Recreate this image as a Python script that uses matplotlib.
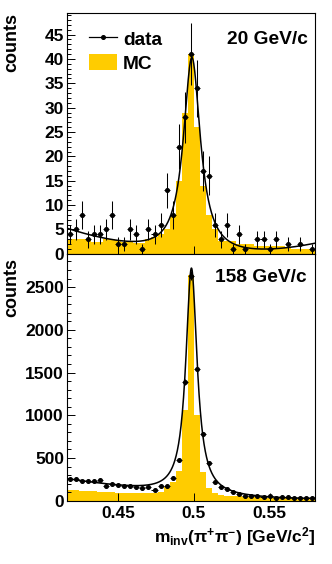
import numpy as np
import matplotlib
matplotlib.use("Agg")
import matplotlib.pyplot as plt
from matplotlib.lines import Line2D
from matplotlib.patches import Patch
from matplotlib.ticker import MultipleLocator, FixedLocator

plt.rcParams['font.family'] = ['Liberation Sans', 'DejaVu Sans']
plt.rcParams['font.weight'] = 'bold'
plt.rcParams['mathtext.fontset'] = 'custom'
plt.rcParams['mathtext.rm'] = 'Liberation Sans:bold'
plt.rcParams['mathtext.bf'] = 'Liberation Sans:bold'
plt.rcParams['mathtext.it'] = 'Liberation Sans:bold'
plt.rcParams['mathtext.default'] = 'bf'

# ---------------- data ----------------
bin_edges = np.round(np.arange(0.416, 0.5801, 0.004), 4)   # 41 bins
bin_centers = (bin_edges[:-1] + bin_edges[1:]) / 2

# 20 GeV/c
data20 = [4, 5, 8, 3, 4, 4, 5, 8, 2, 2, 5, 4, 1, 5, 4, 6, 13, 8, 22, 28, 41,
          34, 17, 16, 6, 3, 6, 1, 4, 1, 0, 3, 3, 1, 3, 0, 2, 0, 2, 0, 1]
mc20 = [3.0, 3.0, 3.0, 3.0, 2.5, 2.5, 3.0, 3.0, 2.8, 2.5, 2.5, 2.3, 2.3, 3.0,
        3.5, 4.0, 5.0, 8.0, 15.0, 29.0, 41.0, 26.0, 14.0, 8.0, 5.0, 2.7, 2.7,
        2.7, 2.0, 2.0, 2.0, 1.5, 1.5, 1.5, 1.5, 1.5, 1.2, 1.0, 1.0, 1.0, 1.0]
# fit: Breit-Wigner (amplitude, mass, half width) + quadratic background
fit20_bw = [40.5, 0.4987, 0.0068]
fit20_bg = [-0.21, -16.8, 539.0]

# 158 GeV/c
data158 = [250, 254, 231, 227, 227, 239, 176, 196, 180, 168, 172, 164, 149, 160,
           125, 176, 176, 270, 473, 1393, 2635, 1539, 775, 438, 223, 157, 133,
           105, 82, 59, 55, 55, 47, 55, 35, 47, 40, 35, 28, 28, 31]
mc158 = [125, 122, 118, 115, 110, 106, 102, 98, 95, 92, 90, 88, 86, 85, 88,
         100, 164, 222, 350, 1062, 2640, 1003, 340, 150, 87, 70, 60, 55, 50,
         45, 42, 40, 38, 35, 33, 30, 28, 27, 25, 24, 22]
fit158_bw = [2650.0, 0.4984, 0.0045]
fit158_bg = [71.3, -1376.0, 9206.0]

labels = ["20 GeV/c", "158 GeV/c"]
ylims = [(0, 49.5), (0, 2890)]
ymajor = [5, 500]
yminor = [1, 100]
xticks = [0.45, 0.50, 0.55]
xticklabels = ["0.45", "0.5", "0.55"]

MC_COLOR = '#FFCC00'
FS = 12.5      # tick labels
FS_T = 13.8    # annotations / legend

fig = plt.figure(figsize=(3.32, 5.64), dpi=100)
ax1 = fig.add_axes([66.7/332, 1-253.8/564, 248.3/332, 241.1/564])
ax2 = fig.add_axes([66.7/332, 1-500.7/564, 248.3/332, 246.9/564])

xfine = np.linspace(bin_edges[0], bin_edges[-1], 800)


def fitcurve(x, bw, bg):
    A, m, g = bw
    u = x - 0.5
    return A * g**2 / ((x - m)**2 + g**2) + bg[0] + bg[1]*u + bg[2]*u**2


for ax, d, mc, bw, bg, yl, ymj, ymn in [
        (ax1, data20, mc20, fit20_bw, fit20_bg, ylims[0], ymajor[0], yminor[0]),
        (ax2, data158, mc158, fit158_bw, fit158_bg, ylims[1], ymajor[1], yminor[1])]:
    d = np.array(d, float)
    ax.stairs(mc, bin_edges, fill=True, color=MC_COLOR, lw=0, zorder=1)
    ax.plot(xfine, fitcurve(xfine, bw, bg), color='black', lw=1.1, zorder=2)
    mask = d > 0
    ax.errorbar(bin_centers[mask], d[mask], yerr=np.sqrt(d[mask]), xerr=0.002,
                fmt='o', ms=2.6, color='black', ecolor='black', elinewidth=0.75,
                capsize=0, zorder=3)
    ax.set_xlim(bin_edges[0], bin_edges[-1])
    ax.set_ylim(*yl)
    ax.yaxis.set_major_locator(MultipleLocator(ymj))
    ax.yaxis.set_minor_locator(MultipleLocator(ymn))
    ax.xaxis.set_major_locator(FixedLocator(xticks))
    ax.tick_params(axis='both', which='both', direction='in', top=False, right=False,
                   labelsize=FS, width=0.7)
    ax.tick_params(axis='y', which='major', length=6, pad=2)
    ax.tick_params(axis='y', which='minor', length=3)
    ax.tick_params(axis='x', which='major', length=5.5, pad=4)
    for sp in ax.spines.values():
        sp.set_linewidth(0.8)
        sp.set_zorder(5)
    for t in ax.get_yticklabels():
        t.set_fontweight('bold')

ax1.set_xticklabels([])
ax2.set_xticklabels(xticklabels, fontweight='bold')

ax1.text(0.972, 0.887, labels[0], transform=ax1.transAxes, ha='right', va='center',
         fontsize=FS_T, fontweight='bold')
ax2.text(0.968, 0.906, labels[1], transform=ax2.transAxes, ha='right', va='center',
         fontsize=FS_T, fontweight='bold')

handles = [Line2D([], [], color='black', lw=0.9, marker='o', ms=2.6),
           Patch(facecolor=MC_COLOR, edgecolor='none')]
ax1.legend(handles, ['data', 'MC'], loc='upper left', bbox_to_anchor=(0.06, 0.96),
           frameon=False, handlelength=1.45, handleheight=0.95,
           handletextpad=0.3, labelspacing=0.25, borderaxespad=0.0,
           prop={'weight': 'bold', 'size': FS_T})

fig.text(12/332, 1-13/564, 'counts', rotation=90, ha='center', va='top',
         fontsize=13, fontweight='bold')
fig.text(12/332, 1-258/564, 'counts', rotation=90, ha='center', va='top',
         fontsize=13, fontweight='bold')
fig.text(315/332, 1-537/564, r'm$_{inv}$(π$^{+}$π$^{-}$) [GeV/c$^{2}$]',
         ha='right', va='center', fontsize=FS, fontweight='bold')

fig.savefig('out.png', dpi=100)
